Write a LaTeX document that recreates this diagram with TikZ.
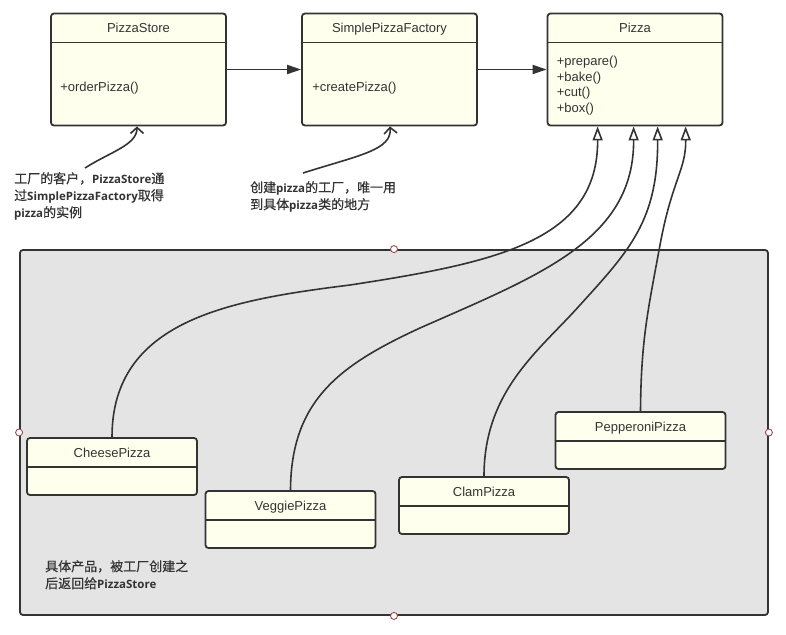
\documentclass[tikz,border=0pt]{standalone}
\usepackage{fontspec}
\setmainfont{Liberation Sans}
\newfontfamily\cjk[FakeBold=0.5]{Noto Sans CJK SC}
\newfontfamily\osans{Open Sans}
\usetikzlibrary{arrows.meta}
\definecolor{ink}{HTML}{333333}
\definecolor{cream}{HTML}{FFFFEE}
\definecolor{panel}{HTML}{E4E4E4}
\definecolor{handle}{HTML}{A04848}
\newcommand\latb[1]{{\osans\bfseries\fontsize{11.5}{17}\selectfont #1}}
\begin{document}
\begin{tikzpicture}[x=1pt,y=-1pt,
  classbox/.style={draw=ink,fill=cream,line width=1.8pt,rounded corners=3pt,inner sep=0pt,minimum width=175pt},
  smallbox/.style={draw=ink,fill=cream,line width=1.8pt,rounded corners=3pt,inner sep=0pt,minimum width=170pt,minimum height=57pt},
  cname/.style={text=ink,font=\fontsize{13}{15.6}\selectfont,inner sep=0pt,text height=12.3pt,text depth=0pt},
  meth/.style={text=ink,font=\fontsize{13}{15.6}\selectfont,inner sep=0pt,text height=12.3pt,text depth=0pt,anchor=west},
  note/.style={text=ink,font=\cjk\fontsize{13}{17}\selectfont,inner sep=0pt,align=left,anchor=north west},
  assoc/.style={draw=ink,line width=1.8pt,-{Triangle[length=14pt,width=9pt]}},
  inherit/.style={draw=ink,line width=1.6pt,-{Triangle[open,length=14pt,width=10pt,line width=1.6pt]}},
  pointer/.style={draw=ink,line width=1.6pt,-{Straight Barb[length=6pt,width=13pt,line width=1.6pt]}},
  grip/.style={circle,draw=handle,fill=white,line width=0.9pt,inner sep=0pt,minimum size=7pt}
]
\useasboundingbox (0,0) rectangle (786,634);
\fill[white] (0,0) rectangle (786,634);

% container
\node[draw=ink,fill=panel,line width=1.8pt,rounded corners=3pt,inner sep=0pt,
      minimum width=748pt,minimum height=365pt] (panel) at (394,432.5) {};

% top classes
\node[classbox,minimum height=112pt] (store) at (138.5,69.5) {};
\node[classbox,minimum height=112pt] (factory) at (389.5,69.5) {};
\node[classbox,minimum height=112pt] (pizza) at (635,69.5) {};
\foreach \n in {store,factory,pizza}{
  \draw[ink,line width=1.8pt] ([yshift=-30pt]\n.north west) -- ([yshift=-30pt]\n.north east);
}
\node[cname] (storename) at ([yshift=-14pt]store.north) {PizzaStore};
\node[cname] (factoryname) at ([yshift=-14pt]factory.north) {SimplePizzaFactory};
\node[cname] (pizzaname) at ([yshift=-14pt]pizza.north) {Pizza};
\node[meth] (m1) at ([xshift=10pt,yshift=-15.5pt]store.west) {+orderPizza()};
\node[meth] (m2) at ([xshift=11pt,yshift=-15.5pt]factory.west) {+createPizza()};
\node[meth] (m3) at ([xshift=10pt,yshift=-47pt]pizza.north west) {+prepare()};
\node[meth] (m4) at ([xshift=10pt,yshift=-63pt]pizza.north west) {+bake()};
\node[meth] (m5) at ([xshift=10pt,yshift=-78pt]pizza.north west) {+cut()};
\node[meth] (m6) at ([xshift=10pt,yshift=-94pt]pizza.north west) {+box()};

% associations
\draw[assoc] (store.east) -- (factory.west);
\draw[assoc] (factory.east) -- (pizza.west);

% concrete classes
\node[smallbox] (cheese) at (112,466.5) {};
\node[smallbox] (veggie) at (290.5,519.5) {};
\node[smallbox] (clam) at (484,505.5) {};
\node[smallbox] (pepperoni) at (640.5,440.5) {};
\foreach \n in {cheese,veggie,clam,pepperoni}{
  \draw[ink,line width=1.8pt] ([yshift=-30pt]\n.north west) -- ([yshift=-30pt]\n.north east);
}
\node[cname] (cheesename) at ([yshift=-14pt]cheese.north) {CheesePizza};
\node[cname] (veggiename) at ([yshift=-14pt]veggie.north) {VeggiePizza};
\node[cname] (clamname) at ([yshift=-14pt]clam.north) {ClamPizza};
\node[cname] (pepname) at ([yshift=-14pt]pepperoni.north) {PepperoniPizza};

% inheritance
\draw[inherit] (cheese.north) .. controls (112,320) and (230,300) .. (350,285)
  .. controls (500,262) and (598,240) .. ([xshift=51pt]pizza.south west);
\draw[inherit] (veggie.north) .. controls (291,400) and (340,365) .. (420,328)
  .. controls (540,275) and (634,240) .. ([xshift=87pt]pizza.south west);
\draw[inherit] (clam.north) .. controls (484,390) and (540,350) .. (580,305)
  .. controls (630,250) and (658,220) .. ([xshift=111pt]pizza.south west);
\draw[inherit] (pepperoni.north) .. controls (641,340) and (648,310) .. (660,245)
  .. controls (672,180) and (686,170) .. ([xshift=139pt]pizza.south west);

% notes
\node[note] (note1) at (14,172) {工厂的客户，\latb{PizzaStore}通\\过\latb{SimplePizzaFactory}取得\\\latb{pizza}的实例};
\node[note] (note2) at (250,181) {创建\latb{pizza}的工厂，唯一用\\到具体\latb{pizza}类的地方};
\node[note] (note3) at (45,560) {具体产品，被工厂创建之\\后返回给\latb{PizzaStore}};

\coordinate (c1) at (85,168);
\coordinate (c2) at (303,173);
\draw[pointer] (c1) .. controls (110,152) and (137,145) .. ([xshift=-1.5pt]store.south);
\draw[pointer] (c2) .. controls (360,155) and (392,150) .. ([xshift=0.5pt]factory.south);

% handles
\node[grip] (g1) at (panel.north) {};
\node[grip] (g2) at (panel.west) {};
\node[grip] (g3) at (panel.east) {};
\node[grip] (g4) at (panel.south) {};
\end{tikzpicture}
\end{document}
